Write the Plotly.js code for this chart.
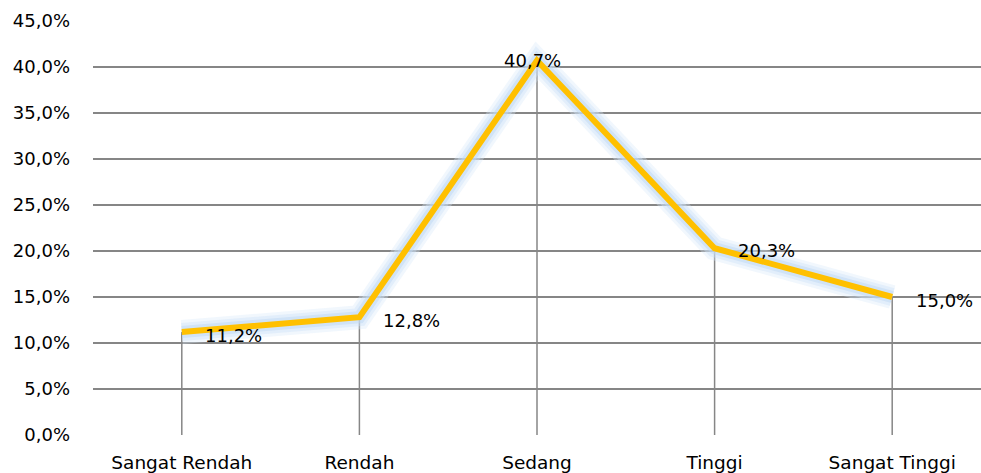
<!DOCTYPE html>
<html><head><meta charset="utf-8">
<script src="https://cdn.plot.ly/plotly-3.0.1.min.js"></script>
<style>html,body{margin:0;padding:0;background:#fff}#c{width:981px;height:473px}</style>
</head><body><div id="c"></div>
<script>
const categories = ["Sangat Rendah", "Rendah", "Sedang", "Tinggi", "Sangat Tinggi"];
const values = [0.112, 0.128, 0.407, 0.203, 0.150];
const labels = ["11,2%", "12,8%", "40,7%", "20,3%", "15,0%"];
const yTicks = [0, 0.05, 0.10, 0.15, 0.20, 0.25, 0.30, 0.35, 0.40, 0.45];

const traces = [];
categories.forEach((c, i) => {
  traces.push({x: [c, c], y: [0, values[i]], mode: "lines", type: "scatter",
    line: {color: "#868686", width: 1.5}, hoverinfo: "skip", showlegend: false});
});
[[24, "rgba(215,232,250,0.35)"], [18, "rgba(205,226,248,0.4)"], [12, "rgba(190,216,244,0.5)"]].forEach(g => {
  traces.push({x: categories, y: values, mode: "lines", type: "scatter",
    line: {color: g[1], width: g[0]}, hoverinfo: "skip", showlegend: false});
});
traces.push({x: categories, y: values, mode: "lines", type: "scatter",
  line: {color: "#FFC000", width: 6}, showlegend: false});

const shifts = [[52, -4], [52, -3], [-5, 0], [52, -2], [52, -3]];
const annotations = categories.map((c, i) => ({
  x: c, y: values[i], xref: "x", yref: "y", text: labels[i], showarrow: false,
  xshift: shifts[i][0], yshift: shifts[i][1],
  font: {family: "DejaVu Sans, sans-serif", size: 18, color: "#000"}
}));

const layout = {
  width: 981, height: 473,
  margin: {l: 93, r: 0, t: 21, b: 38},
  paper_bgcolor: "#fff", plot_bgcolor: "#fff",
  separators: ",.",
  showlegend: false,
  xaxis: {type: "category", range: [-0.5, 4.5], showgrid: false, zeroline: false,
    showline: false, ticks: "", ticklabelstandoff: 14,
    tickfont: {family: "DejaVu Sans, sans-serif", size: 18.5, color: "#000"}},
  yaxis: {range: [0, 0.45], tickvals: yTicks, tickformat: ".1%", showgrid: true,
    gridcolor: "#868686", gridwidth: 1.3, zeroline: false, showline: false, ticks: "",
    ticklabelstandoff: 22,
    tickfont: {family: "DejaVu Sans, sans-serif", size: 18, color: "#000"}},
  annotations: annotations
};
Plotly.newPlot("c", traces, layout, {displayModeBar: false, staticPlot: true});
</script></body></html>
